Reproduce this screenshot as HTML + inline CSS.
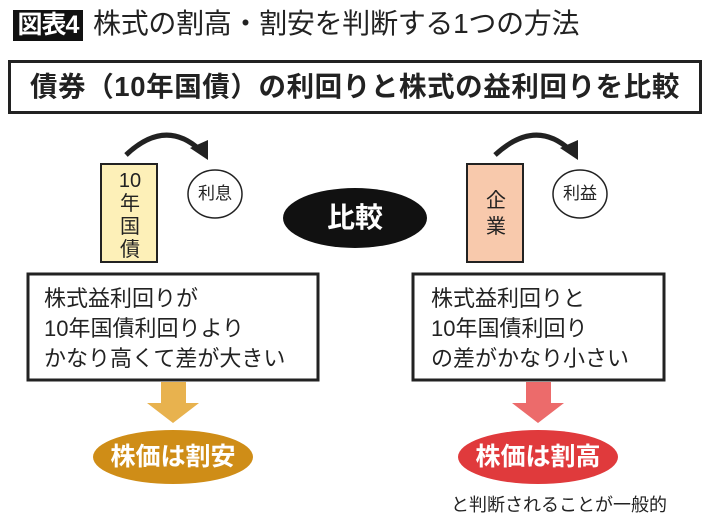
<!DOCTYPE html>
<html><head><meta charset="utf-8"><style>
body{margin:0;width:710px;height:520px;background:#fff;position:relative;overflow:hidden;font-family:"Liberation Sans","Noto Sans CJK JP",sans-serif;color:#222}
.a{position:absolute;white-space:nowrap}
</style></head><body>
<div class="a" style="left:13px;top:10px;width:70px;height:31px;background:#111;color:#fff;font-size:25px;font-weight:bold;line-height:31px;text-align:center;letter-spacing:-1px">図表4</div>
<div class="a" style="left:93px;top:6px;font-size:28px;line-height:36px;letter-spacing:-0.3px">株式の割高・割安を判断する1つの方法</div>
<div class="a" style="left:8px;top:60px;width:688px;height:48px;border:3px solid #222;font-size:27.5px;font-weight:bold;line-height:48px;text-align:center;letter-spacing:0.6px">債券（10年国債）の利回りと株式の益利回りを比較</div>
<svg class="a" style="left:0;top:0" width="710" height="520">
<path d="M126,155 Q165,118 200,150" fill="none" stroke="#222" stroke-width="5"/>
<polygon points="190,148 208,160 208,140" fill="#222"/>
<path d="M495,155 Q535,118 570,150" fill="none" stroke="#222" stroke-width="5"/>
<polygon points="560,148 578,160 578,140" fill="#222"/>
<rect x="101" y="164" width="56" height="98" fill="#fdf0b8" stroke="#222" stroke-width="2"/>
<rect x="467" y="164" width="56" height="98" fill="#f8c9ac" stroke="#222" stroke-width="2"/>
<ellipse cx="215" cy="194" rx="27" ry="24" fill="#fff" stroke="#222" stroke-width="1.5"/>
<ellipse cx="580" cy="194" rx="27" ry="24" fill="#fff" stroke="#222" stroke-width="1.5"/>
<ellipse cx="355" cy="218" rx="72" ry="30" fill="#111"/>
<rect x="28" y="274" width="290" height="106" fill="#fff" stroke="#222" stroke-width="3"/>
<rect x="413" y="274" width="251" height="106" fill="#fff" stroke="#222" stroke-width="3"/>
<polygon points="161,382 186,382 186,403 199,403 173,423 147,403 161,403" fill="#e8b24e"/>
<polygon points="526,382 551,382 551,403 564,403 538,423 512,403 526,403" fill="#ec6b6b"/>
<ellipse cx="173" cy="457" rx="80" ry="27" fill="#cf8d17"/>
<ellipse cx="538" cy="457" rx="80" ry="27" fill="#e03a3c"/>
</svg>
<div class="a" style="left:101px;top:170px;width:58px;text-align:center;font-size:20px;line-height:23px;white-space:normal">10<br>年<br>国<br>債</div>
<div class="a" style="left:467px;top:188px;width:58px;text-align:center;font-size:20px;line-height:26px;white-space:normal">企<br>業</div>
<div class="a" style="left:188px;top:183px;width:54px;text-align:center;font-size:17px;line-height:22px">利息</div>
<div class="a" style="left:553px;top:183px;width:54px;text-align:center;font-size:17px;line-height:22px">利益</div>
<div class="a" style="left:283px;top:201px;width:144px;text-align:center;font-size:28px;font-weight:bold;color:#fff;line-height:34px">比較</div>
<div class="a" style="left:44px;top:284px;font-size:22px;line-height:30px">株式益利回りが<br>10年国債利回りより<br>かなり高くて差が大きい</div>
<div class="a" style="left:431px;top:284px;font-size:22px;line-height:30px">株式益利回りと<br>10年国債利回り<br>の差がかなり小さい</div>
<div class="a" style="left:93px;top:440px;width:160px;text-align:center;font-size:25px;font-weight:bold;color:#fff;line-height:34px">株価は割安</div>
<div class="a" style="left:458px;top:440px;width:160px;text-align:center;font-size:25px;font-weight:bold;color:#fff;line-height:34px">株価は割高</div>
<div class="a" style="left:451px;top:493px;font-size:18px;line-height:24px">と判断されることが一般的</div>
</body></html>
